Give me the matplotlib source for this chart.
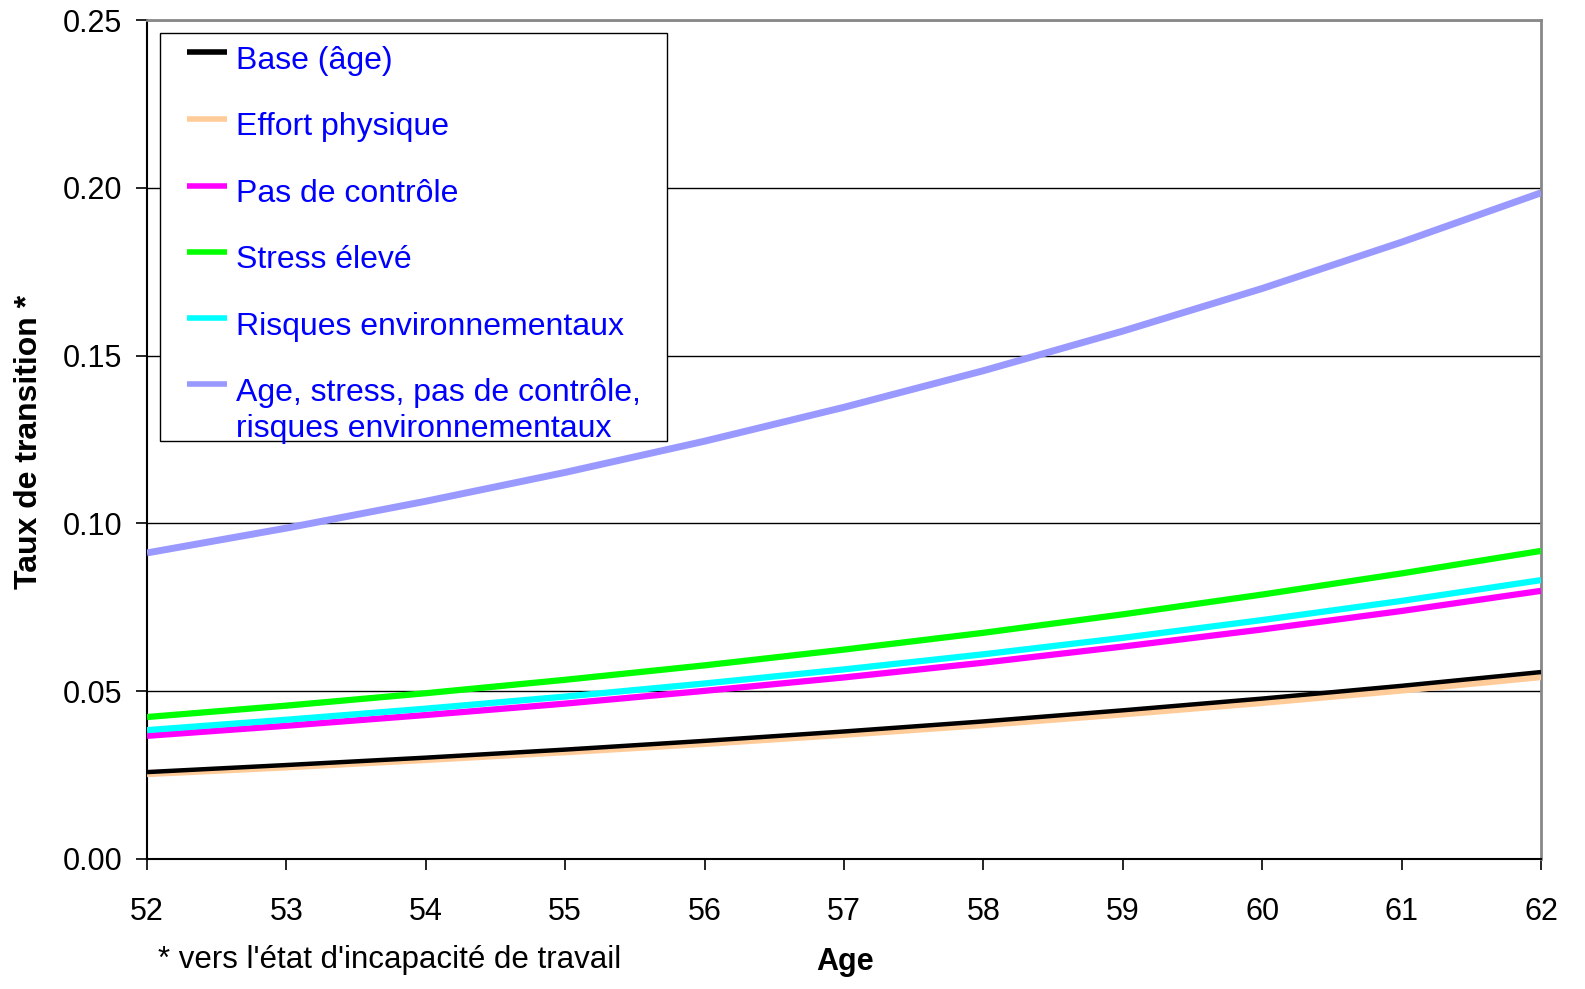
import numpy as np
import matplotlib.pyplot as plt
from matplotlib.lines import Line2D
from matplotlib.patches import Rectangle

plt.rcParams['font.family'] = ['Liberation Sans', 'DejaVu Sans']

ages = [52, 53, 54, 55, 56, 57, 58, 59, 60, 61, 62]

base = [0.0259, 0.0280, 0.0302, 0.0326, 0.0352, 0.0380, 0.0410, 0.0443, 0.0478, 0.0516, 0.0557]
effort = [0.0253, 0.0273, 0.0295, 0.0318, 0.0343, 0.0370, 0.0399, 0.0431, 0.0465, 0.0502, 0.0542]
controle = [0.0367, 0.0397, 0.0429, 0.0463, 0.0501, 0.0541, 0.0585, 0.0633, 0.0684, 0.0739, 0.0799]
stress = [0.0423, 0.0457, 0.0494, 0.0534, 0.0577, 0.0624, 0.0674, 0.0729, 0.0788, 0.0851, 0.0918]
risques = [0.0384, 0.0415, 0.0448, 0.0484, 0.0523, 0.0565, 0.0610, 0.0659, 0.0712, 0.0769, 0.0831]
combine = [0.0912, 0.0986, 0.1066, 0.1152, 0.1245, 0.1346, 0.1455, 0.1573, 0.1700, 0.1838, 0.1985]

labels = ['Base (âge)', 'Effort physique', 'Pas de contrôle', 'Stress élevé',
          'Risques environnementaux',
          'Age, stress, pas de contrôle,\nrisques environnementaux']
series = [base, effort, controle, stress, risques, combine]
colors = ['#000000', '#FFCC99', '#FF00FF', '#00FF00', '#00FFFF', '#9999FF']
widths = [3.2, 4.5, 4.5, 4.5, 4.5, 5.0]
zorders = [6, 5, 4, 4, 4, 4]

W, H = 1585, 989
fig = plt.figure(figsize=(W / 100, H / 100), dpi=100)
ax = fig.add_axes([147 / W, 1 - 859 / H, (1541 - 147) / W, (859 - 20) / H])


def fx(px):
    return px / W


def fy(py):
    return 1 - py / H


for s, lab, c, w, z in zip(series, labels, colors, widths, zorders):
    ax.plot(ages, s, color=c, lw=w, label=lab, zorder=z, solid_capstyle='butt')

ax.set_xlim(52, 62)
ax.set_ylim(0, 0.25)
ax.set_xticks(ages)
ax.set_yticks([0, 0.05, 0.10, 0.15, 0.20, 0.25])
ax.set_yticklabels(['0.00', '0.05', '0.10', '0.15', '0.20', '0.25'])
ax.yaxis.grid(True, color='black', lw=1)
ax.set_axisbelow(True)
ax.tick_params(axis='both', labelsize=22, direction='out', length=8, width=1.2)
ax.tick_params(axis='x', pad=19)
ax.tick_params(axis='y', pad=10)

for side in ['left', 'bottom']:
    ax.spines[side].set_color('black')
    ax.spines[side].set_linewidth(1.5)
for side in ['right', 'top']:
    ax.spines[side].set_color('#888888')
    ax.spines[side].set_linewidth(2)

fig.text(fx(29), fy(442), 'Taux de transition *', fontsize=23, fontweight='bold',
         rotation=90, ha='center', va='center')
fig.text(fx(845), fy(962), 'Age', fontsize=22, fontweight='bold',
         ha='center', va='center')
fig.text(fx(158), fy(960), "* vers l'état d'incapacité de travail",
         fontsize=22.5, ha='left', va='center')

# legend drawn by hand so the handle sits on the first line of a two-line label
fig.patches.append(Rectangle((fx(160), fy(441)), fx(667) - fx(160), fy(33) - fy(441),
                             transform=fig.transFigure, facecolor='white',
                             edgecolor='black', lw=1, zorder=10))
handle_y = [52, 119, 186, 252, 318, 384]
for hy, lab, c in zip(handle_y, labels, colors):
    fig.lines.append(Line2D([fx(187), fx(227)], [fy(hy), fy(hy)], color=c, lw=4,
                            transform=fig.transFigure, zorder=11,
                            solid_capstyle='butt'))
    for k, line in enumerate(lab.split('\n')):
        fig.text(fx(236), fy(hy + 5 + 36 * k), line, fontsize=23, color='#0000FF',
                 ha='left', va='center_baseline', zorder=12)

fig.savefig('out.png', dpi=100)
